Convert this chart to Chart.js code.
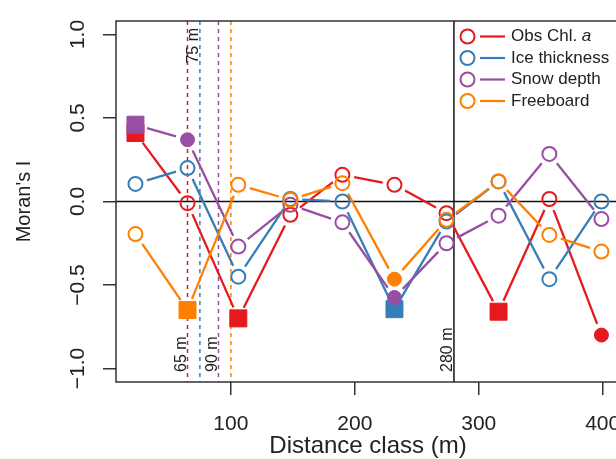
<!DOCTYPE html>
<html>
<head>
<meta charset="utf-8">
<script src="https://cdn.jsdelivr.net/npm/chart.js@4.4.1/dist/chart.umd.min.js"></script>
<style>
  html, body { margin: 0; padding: 0; background: #fff; overflow: hidden; }
  canvas { display: block; }
</style>
</head>
<body>
<canvas id="moranChart" width="640" height="459"></canvas>
<script>
// distance class centres (m)
const distance = [23, 65, 106, 148, 190, 232, 274, 316, 357, 399];

const seriesNames = ["Obs Chl. a", "Ice thickness", "Snow depth", "Freeboard"];

// Moran's I per distance class
const chlValues = [0.41, -0.01, -0.70, -0.08, 0.16, 0.10, -0.07, -0.66, 0.015, -0.80];
const iceValues = [0.105, 0.20, -0.45, 0.015, 0.0, -0.645, -0.12, 0.12, -0.465, 0.0];
const snowValues = [0.46, 0.37, -0.27, -0.02, -0.125, -0.575, -0.25, -0.085, 0.285, -0.105];
const freeValues = [-0.195, -0.65, 0.10, 0.01, 0.11, -0.465, -0.11, 0.12, -0.20, -0.30];

// significance code: 0 = not significant, 1 = significant, 2 = highly significant
const chlSig = [2, 0, 2, 0, 0, 0, 0, 2, 0, 1];
const iceSig = [0, 0, 0, 0, 0, 2, 0, 0, 0, 0];
const snowSig = [2, 1, 0, 0, 0, 1, 0, 0, 0, 0];
const freeSig = [0, 2, 0, 0, 0, 1, 0, 0, 0, 0];

// range of autocorrelation per variable (m) and the sampling cut-off
const rangeDistances = [65, 75, 90, 100];
const rangeLabels = ["65 m", "75 m", "90 m", ""];
const cutoffDistance = 280;
const cutoffLabel = "280 m";

const yTickValues = [-1, -0.5, 0, 0.5, 1];
const xTickValues = [100, 200, 300, 400];

const colors = ["#e41a1c", "#377eb8", "#984ea3", "#ff7f00"];
const FONT = "'Liberation Sans', Arial, Helvetica, sans-serif";
const AXIS = "#333";

const allValues = [chlValues, iceValues, snowValues, freeValues];
const allSig = [chlSig, iceSig, snowSig, freeSig];

const datasets = allValues.map((vals, i) => ({
  label: seriesNames[i],
  data: distance.map((d, j) => ({ x: d, y: vals[j] })),
  order: 3 - i,
  showLine: false,
  borderColor: colors[i],
  pointStyle: allSig[i].map((s) => (s === 2 ? "rect" : "circle")),
  pointRadius: allSig[i].map((s) => (s === 2 ? 12 : 7)),
  pointBorderWidth: allSig[i].map((s) => (s === 0 ? 2 : 1)),
  pointBackgroundColor: allSig[i].map((s) => (s === 0 ? "rgba(0,0,0,0)" : colors[i])),
  pointBorderColor: colors[i],
}));

function vtext(ctx, text, x, y, align) {
  ctx.save();
  ctx.translate(x, y);
  ctx.rotate(-Math.PI / 2);
  ctx.textAlign = align;
  ctx.textBaseline = "alphabetic";
  ctx.fillText(text, 0, 0);
  ctx.restore();
}

// reference lines behind the data
const refLines = {
  id: "refLines",
  beforeDatasetsDraw(chart) {
    const { ctx, chartArea: a, scales: { x, y } } = chart;
    ctx.save();
    ctx.lineWidth = 1.5;
    ctx.setLineDash([4, 4]);
    rangeDistances.forEach((d, i) => {
      const px = x.getPixelForValue(d);
      ctx.strokeStyle = colors[i];
      ctx.beginPath();
      ctx.moveTo(px, a.top);
      ctx.lineTo(px, a.bottom);
      ctx.stroke();
    });
    ctx.setLineDash([]);
    ctx.strokeStyle = "#111";
    const cx = x.getPixelForValue(cutoffDistance);
    ctx.beginPath();
    ctx.moveTo(cx, a.top);
    ctx.lineTo(cx, a.bottom);
    ctx.stroke();
    const zy = y.getPixelForValue(0);
    ctx.beginPath();
    ctx.moveTo(a.left, zy);
    ctx.lineTo(a.right, zy);
    ctx.stroke();

    ctx.fillStyle = "#222";
    ctx.font = "16px " + FONT;
    rangeDistances.forEach((d, i) => {
      if (!rangeLabels[i]) return;
      const px = x.getPixelForValue(d) - 1.5;
      if (i === 1) vtext(ctx, rangeLabels[i], px, a.top + 7, "right");
      else vtext(ctx, rangeLabels[i], px, a.bottom - 10, "left");
    });
    vtext(ctx, cutoffLabel, cx - 1.5, a.bottom - 10, "left");
    ctx.restore();
  },
};

// R style "b" lines: segments stop short of the markers
const gappedLines = {
  id: "gappedLines",
  beforeDatasetsDraw(chart) {
    const ctx = chart.ctx;
    const gap = 12;
    ctx.save();
    ctx.lineWidth = 2.3;
    chart.data.datasets.forEach((ds, i) => {
      const pts = chart.getDatasetMeta(i).data;
      ctx.strokeStyle = ds.borderColor;
      for (let j = 1; j < pts.length; j++) {
        const p = pts[j - 1], q = pts[j];
        const dx = q.x - p.x, dy = q.y - p.y;
        const len = Math.hypot(dx, dy);
        if (len <= 2 * gap) continue;
        const ux = dx / len, uy = dy / len;
        ctx.beginPath();
        ctx.moveTo(p.x + ux * gap, p.y + uy * gap);
        ctx.lineTo(q.x - ux * gap, q.y - uy * gap);
        ctx.stroke();
      }
    });
    ctx.restore();
  },
};

// box, y tick labels, y title, legend
const frame = {
  id: "frame",
  afterDraw(chart) {
    const { ctx, chartArea: a, scales: { y } } = chart;
    ctx.save();
    ctx.strokeStyle = AXIS;
    ctx.lineWidth = 1.5;
    ctx.strokeRect(a.left, a.top, a.right - a.left, a.bottom - a.top);

    ctx.fillStyle = "#222";
    ctx.font = "21px " + FONT;
    y.ticks.forEach((t) => {
      const label = t.value.toFixed(1).replace("-", "\u2212");
      vtext(ctx, label, 84, y.getPixelForValue(t.value), "center");
    });
    ctx.font = "20px " + FONT;
    vtext(ctx, "Moran's I", 30, (a.top + a.bottom) / 2, "center");

    // legend
    seriesNames.forEach((name, i) => {
      const ry = 36.5 + i * 21.5;
      ctx.strokeStyle = colors[i];
      ctx.lineWidth = 2;
      ctx.beginPath();
      ctx.arc(467.5, ry, 7, 0, Math.PI * 2);
      ctx.stroke();
      ctx.lineWidth = 2.2;
      ctx.beginPath();
      ctx.moveTo(480, ry);
      ctx.lineTo(505, ry);
      ctx.stroke();
      ctx.fillStyle = "#222";
      ctx.textAlign = "left";
      ctx.textBaseline = "middle";
      ctx.font = "17px " + FONT;
      if (name.endsWith(" a")) {
        const head = name.slice(0, -1);
        ctx.fillText(head, 511, ry);
        const w = ctx.measureText(head).width;
        ctx.font = "italic 17px " + FONT;
        ctx.fillText("a", 511 + w, ry);
      } else {
        ctx.fillText(name, 511, ry);
      }
    });
    ctx.restore();
  },
};

Chart.defaults.font.family = FONT;

new Chart(document.getElementById("moranChart"), {
  type: "scatter",
  data: { datasets },
  options: {
    responsive: false,
    animation: false,
    events: [],
    layout: { padding: { top: 21, right: 20, left: 0, bottom: 0 } },
    plugins: {
      legend: { display: false },
      tooltip: { enabled: false },
    },
    scales: {
      x: {
        type: "linear",
        min: 7.3,
        max: 414,
        afterFit: (s) => { s.height = 77; },
        afterBuildTicks: (s) => { s.ticks = xTickValues.map((v) => ({ value: v })); },
        border: { display: false },
        grid: { drawOnChartArea: false, tickLength: 13, color: AXIS, lineWidth: 1.5 },
        ticks: { color: "#222", font: { size: 21 }, padding: 17, maxRotation: 0 },
        title: {
          display: true,
          text: "Distance class (m)",
          color: "#222",
          font: { size: 24, lineHeight: 1.05 },
          padding: { top: 0, bottom: 0 },
        },
      },
      y: {
        type: "linear",
        min: -1.081,
        max: 1.081,
        afterFit: (s) => { s.width = 116; },
        afterBuildTicks: (s) => { s.ticks = yTickValues.map((v) => ({ value: v })); },
        border: { display: false },
        grid: { drawOnChartArea: false, tickLength: 13, color: AXIS, lineWidth: 1.5 },
        ticks: { display: false },
      },
    },
  },
  plugins: [refLines, gappedLines, frame],
});
</script>
</body>
</html>
